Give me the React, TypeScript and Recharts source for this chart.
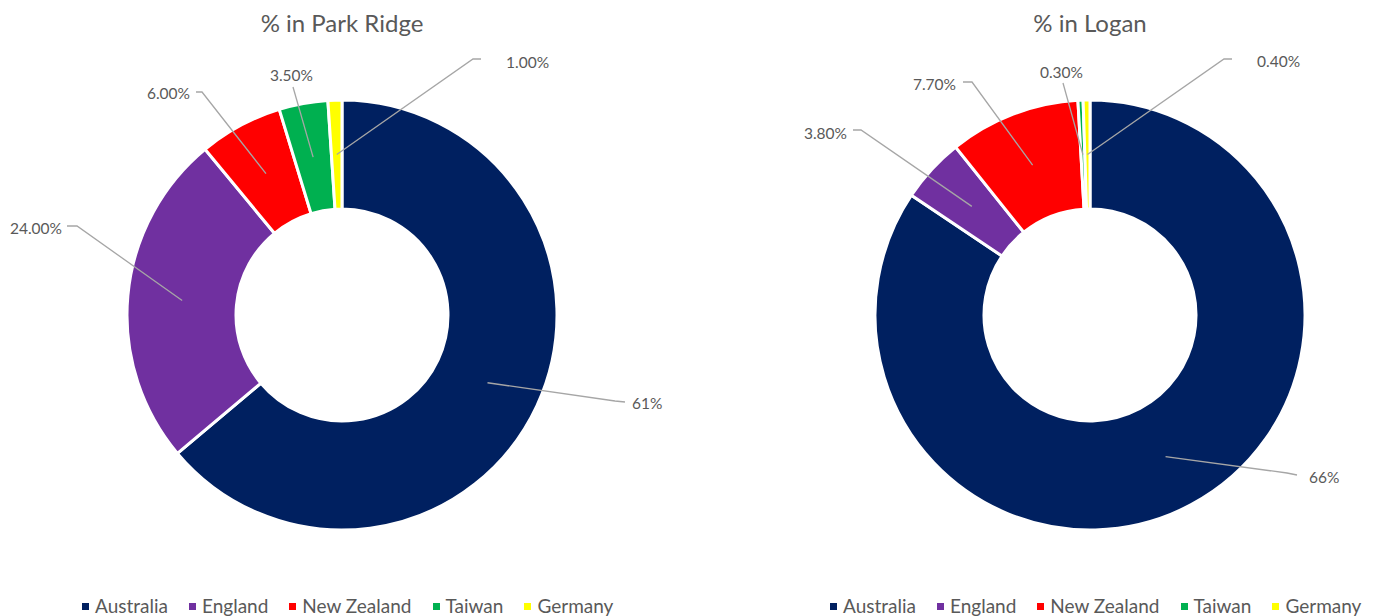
import { Cell, Legend, Pie, PieChart } from "recharts";

const countries = ["Australia", "England", "New Zealand", "Taiwan", "Germany"];
const countryColors = ["#002060", "#7030A0", "#FF0000", "#00B050", "#FFFF00"];

const parkRidgeValues = [61, 24, 6, 3.5, 1];
const parkRidgeLabels = ["61%", "24.00%", "6.00%", "3.50%", "1.00%"];

const loganValues = [66, 3.8, 7.7, 0.3, 0.4];
const loganLabels = ["66%", "3.80%", "7.70%", "0.30%", "0.40%"];

const FONT = "Lato, 'Open Sans', sans-serif";
const TEXT = "#595959";
const LEADER = "#A6A6A6";
const RAD = Math.PI / 180;

// leader line layout, offsets from the pie centre: elbow, optional horizontal end, text anchor
type LabelSpot = { elbow: number[]; tail?: number[]; text: number[]; anchor: "start" | "middle" | "end" };

const parkRidgeSpots: LabelSpot[] = [
  { elbow: [273, 86], tail: [283, 87], text: [290, 88], anchor: "start" },
  { elbow: [-265, -89], tail: [-275, -89], text: [-280, -87], anchor: "end" },
  { elbow: [-140, -223], tail: [-146, -223], text: [-152, -222], anchor: "end" },
  { elbow: [-49, -228], text: [-50.5, -240], anchor: "middle" },
  { elbow: [131, -256], tail: [139, -256], text: [164, -253], anchor: "start" },
];

const loganSpots: LabelSpot[] = [
  { elbow: [197, 158], tail: [207, 160], text: [219, 162], anchor: "start" },
  { elbow: [-229, -185], tail: [-237, -185], text: [-243, -182], anchor: "end" },
  { elbow: [-118, -233], tail: [-127, -233], text: [-134, -231], anchor: "end" },
  { elbow: [-27, -232], text: [-28.5, -243], anchor: "middle" },
  { elbow: [134, -256], tail: [142, -256], text: [167, -254], anchor: "start" },
];

function buildRows(values: number[]) {
  return countries.map((name, i) => ({ name, value: values[i], fill: countryColors[i] }));
}

function makeLabel(texts: string[], spots: LabelSpot[]) {
  return (props: any) => {
    const { cx, cy, midAngle, innerRadius, outerRadius, index } = props;
    const spot = spots[index];
    const r = (innerRadius + outerRadius) / 2;
    const sx = cx + r * Math.cos(-midAngle * RAD);
    const sy = cy + r * Math.sin(-midAngle * RAD);
    const pts = [[sx, sy], [cx + spot.elbow[0], cy + spot.elbow[1]]];
    if (spot.tail) pts.push([cx + spot.tail[0], cy + spot.tail[1]]);
    return (
      <g key={`lbl-${index}`}>
        <polyline
          points={pts.map((p) => p.join(",")).join(" ")}
          fill="none"
          stroke={LEADER}
          strokeWidth={1.3}
        />
        <text
          x={cx + spot.text[0]}
          y={cy + spot.text[1]}
          textAnchor={spot.anchor}
          dominantBaseline="central"
          fill={TEXT}
          fontSize={15.5}
          fontFamily={FONT}
        >
          {texts[index]}
        </text>
      </g>
    );
  };
}

function LegendRow(props: any) {
  const items = [...(props.payload || [])].sort(
    (a: any, b: any) => countries.indexOf(a.value) - countries.indexOf(b.value)
  );
  return (
    <div
      style={{
        display: "flex",
        flexWrap: "nowrap",
        whiteSpace: "nowrap",
        alignItems: "center",
        fontFamily: FONT,
        fontSize: 19,
        color: TEXT,
        lineHeight: "20px",
      }}
    >
      {items.map((item: any, i: number) => (
        <div key={i} style={{ display: "flex", alignItems: "center", marginRight: 21, flexShrink: 0 }}>
          <span style={{ width: 7, height: 7, background: item.color, marginRight: 6, display: "inline-block" }} />
          <span>{item.value}</span>
        </div>
      ))}
    </div>
  );
}

function Donut(props: {
  title: string;
  values: number[];
  texts: string[];
  spots: LabelSpot[];
  left: number;
  width: number;
  cx: number;
  legendLeft: number;
}) {
  const rows = buildRows(props.values);
  return (
    <div style={{ position: "absolute", left: props.left, top: 0, width: props.width, height: 616 }}>
      <PieChart width={props.width} height={616} margin={{ top: 0, right: 0, bottom: 0, left: 0 }}>
        <Pie
          data={rows}
          dataKey="value"
          nameKey="name"
          cx={props.cx}
          cy={315}
          innerRadius={106}
          outerRadius={215}
          startAngle={90}
          endAngle={-270}
          stroke="#ffffff"
          strokeWidth={3}
          labelLine={false}
          label={makeLabel(props.texts, props.spots)}
          isAnimationActive={false}
        >
          {rows.map((r, i) => (
            <Cell key={r.name} fill={countryColors[i]} />
          ))}
        </Pie>
        <Legend
          content={<LegendRow />}
          wrapperStyle={{ position: "absolute", left: props.legendLeft, top: 596, width: 580, bottom: "auto" }}
        />
      </PieChart>
      <svg width={props.width} height={50} style={{ position: "absolute", left: 0, top: 0, pointerEvents: "none" }}>
        <text x={props.cx} y={32} textAnchor="middle" fill={TEXT} fontSize={24} fontFamily={FONT}>
          {props.title}
        </text>
      </svg>
    </div>
  );
}

export default function App() {
  return (
    <div style={{ position: "fixed", left: 0, top: 0, width: 1381, height: 616, background: "#fff", overflow: "hidden" }}>
      <Donut
        title="% in Park Ridge"
        values={parkRidgeValues}
        texts={parkRidgeLabels}
        spots={parkRidgeSpots}
        left={0}
        width={690}
        cx={342}
        legendLeft={82}
      />
      <Donut
        title="% in Logan"
        values={loganValues}
        texts={loganLabels}
        spots={loganSpots}
        left={690}
        width={691}
        cx={400}
        legendLeft={140}
      />
    </div>
  );
}
